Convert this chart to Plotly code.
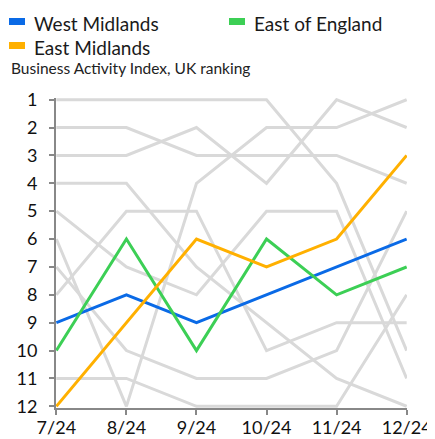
import plotly.graph_objects as go

# ---- data ----
months = ["7/24", "8/24", "9/24", "10/24", "11/24", "12/24"]
rank_ticks = [1, 2, 3, 4, 5, 6, 7, 8, 9, 10, 11, 12]

west_midlands = [9, 8, 9, 8, 7, 6]
east_of_england = [10, 6, 10, 6, 8, 7]
east_midlands = [12, 9, 6, 7, 6, 3]

other_1 = [1, 1, 1, 1, 4, 10]
other_2 = [2, 2, 3, 3, 3, 4]
other_3 = [3, 3, 2, 4, 1, 2]
other_4 = [4, 4, 7, 9, 11, 12]
other_5 = [5, 7, 8, 5, 5, 11]
other_6 = [6, 12, 4, 2, 2, 1]
other_7 = [7, 10, 11, 11, 10, 5]
other_8 = [8, 5, 5, 10, 9, 9]
other_9 = [11, 11, 12, 12, 12, 8]

highlight_names = ["West Midlands", "East of England", "East Midlands"]
highlight_values = [west_midlands, east_of_england, east_midlands]
highlight_colors = ["#0A6AE6", "#3CCF55", "#FFB000"]
others = [other_1, other_2, other_3, other_4, other_5, other_6, other_7, other_8, other_9]

subtitle = "Business Activity Index, UK ranking"

FONT = "Lato"
OFF = 8  # page body margin in the browser
W, H = 435 - OFF, 439 - OFF
ML, MR, MT, MB = 56 - OFF, 28, 98 - OFF, 31

fig = go.Figure()

for i, vals in enumerate(others):
    fig.add_trace(go.Scatter(
        x=months, y=vals, mode="lines", name=f"Other region {i+1}",
        line=dict(color="#D9D9D9", width=3), showlegend=False,
        hoverinfo="skip",
    ))

for name, vals, col in zip(highlight_names, highlight_values, highlight_colors):
    fig.add_trace(go.Scatter(
        x=months, y=vals, mode="lines", name=name,
        line=dict(color=col, width=3), showlegend=False,
    ))

# manual legend (swatches + labels); positions given as screen pixels, converted
# to pixel offsets from the plot's top-left corner
PL, PT = ML + OFF, MT + OFF
shapes = []
annotations = []
legend_pos = [(9, 18), (229, 18), (9, 42)]
for (sx, sy), name, col in zip(legend_pos, highlight_names, highlight_colors):
    shapes.append(dict(
        type="rect", xref="paper", yref="paper",
        xsizemode="pixel", ysizemode="pixel", xanchor=0, yanchor=1,
        x0=sx - PL, x1=sx + 16 - PL, y0=PT - (sy + 7), y1=PT - sy,
        fillcolor=col, line=dict(width=0), layer="above",
    ))
    annotations.append(dict(
        text=name, xref="paper", yref="paper", x=0, y=1,
        xanchor="left", yanchor="middle", showarrow=False,
        xshift=sx + 23 - PL, yshift=PT - (sy + 5),
        font=dict(family=FONT, size=19, color="#1a1a1a"),
    ))

annotations.append(dict(
    text=subtitle, xref="paper", yref="paper", x=0, y=1,
    xanchor="left", yanchor="middle", showarrow=False,
    xshift=9 - PL, yshift=PT - 68,
    font=dict(family=FONT, size=15.5, color="#222222"),
))

fig.update_layout(
    width=W, height=H,
    margin=dict(l=ML, r=MR, t=MT, b=MB, pad=0, autoexpand=False),
    paper_bgcolor="white", plot_bgcolor="white",
    showlegend=False,
    font=dict(family=FONT, color="#111111"),
    shapes=shapes, annotations=annotations,
    xaxis=dict(
        type="category", range=[-0.005, 5.005], automargin=False,
        showgrid=False, zeroline=False,
        showline=True, linecolor="#888888", linewidth=2,
        ticks="outside", ticklen=5, tickwidth=2, tickcolor="#888888",
        tickfont=dict(family=FONT, size=18, color="#111111"),
        layer="below traces", ticklabelstandoff=-3,
    ),
    yaxis=dict(
        range=[12.06, 0.94], tickmode="array", tickvals=rank_ticks,
        ticktext=[str(v) for v in rank_ticks], automargin=False,
        showgrid=False, zeroline=False,
        showline=True, linecolor="#888888", linewidth=2,
        ticks="outside", ticklen=5, tickwidth=2, tickcolor="#888888",
        tickfont=dict(family=FONT, size=18, color="#111111"),
        layer="below traces", ticklabelstandoff=8,
    ),
)

fig.write_html("out.html")
